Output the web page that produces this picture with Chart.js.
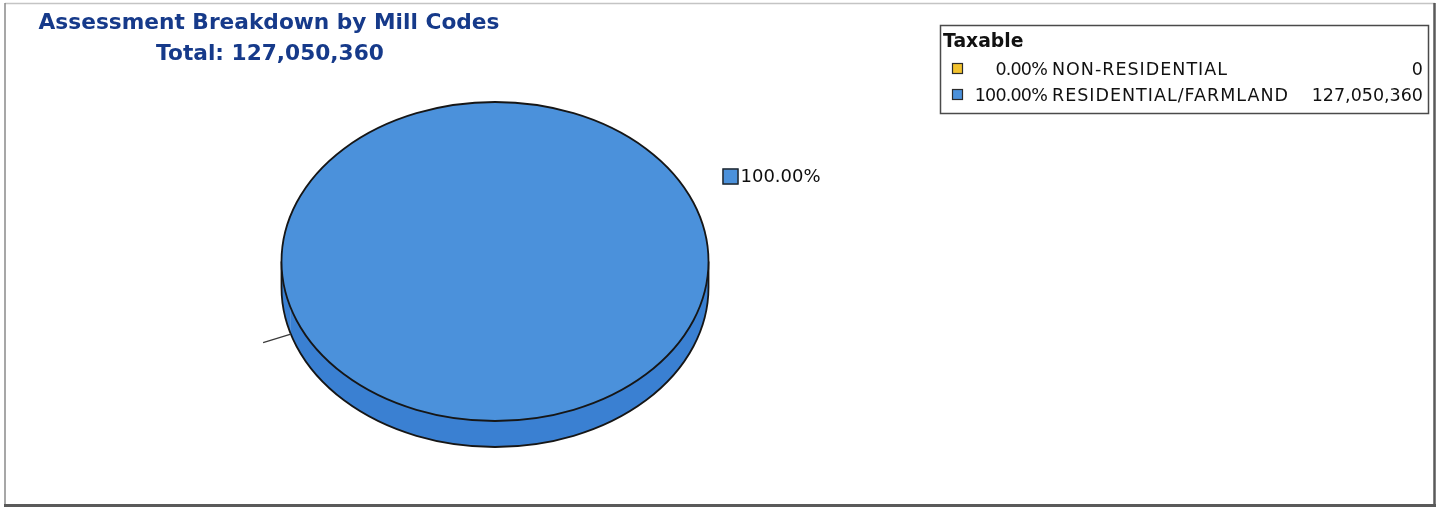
<!DOCTYPE html>
<html>
<head>
<meta charset="utf-8">
<script src="https://cdn.jsdelivr.net/npm/chart.js@4.4.1/dist/chart.umd.min.js"></script>
<style>
  html, body { margin: 0; padding: 0; background: #ffffff; }
  canvas { display: block; }
</style>
</head>
<body>
<canvas id="chart" width="1441" height="508"></canvas>
<script>
// ---- data ----
const chartTitle = 'Assessment Breakdown by Mill Codes';
const legendTitle = 'Taxable';
const categories = ['NON-RESIDENTIAL', 'RESIDENTIAL/FARMLAND'];
const assessedValues = [0, 127050360];
const sliceColors = ['#f2c22e', '#4b91db'];
const wallColors = ['#d6a618', '#3a80d2'];

const total = assessedValues.reduce((a, b) => a + b, 0);
const fmtNum = v => v.toLocaleString('en-US');
const fmtPct = v => (total ? v / total * 100 : 0).toFixed(2) + '%';

const TILT = 0.747;      // vertical squash of the pie disc
const DEPTH = 26;        // thickness of the disc wall
const OUTLINE = '#161616';

function discGeometry(meta) {
  const a = meta.data[0];
  return { cx: a.x, cy: a.y, r: a.outerRadius, ry: a.outerRadius * TILT };
}

function setSpacing(ctx, px) {
  if ('letterSpacing' in ctx) ctx.letterSpacing = px + 'px';
}

// 3D disc: wall under the slices, squashed top face, outlines, leader lines, labels
const pie3d = {
  id: 'pie3d',
  beforeDraw(chart) {
    const ctx = chart.ctx;
    ctx.save();
    ctx.fillStyle = '#ffffff';
    ctx.fillRect(0, 0, chart.width, chart.height);
    // outer frame
    ctx.lineWidth = 1.5;
    ctx.strokeStyle = '#c4c4c4';
    ctx.beginPath(); ctx.moveTo(5, 3.5); ctx.lineTo(1435, 3.5); ctx.stroke();
    ctx.strokeStyle = '#8a8a8a';
    ctx.beginPath(); ctx.moveTo(5, 3); ctx.lineTo(5, 505); ctx.stroke();
    ctx.lineWidth = 2.5;
    ctx.strokeStyle = '#5a5a5a';
    ctx.beginPath(); ctx.moveTo(1434.5, 3); ctx.lineTo(1434.5, 505); ctx.stroke();
    ctx.lineWidth = 3;
    ctx.beginPath(); ctx.moveTo(4, 505.5); ctx.lineTo(1436, 505.5); ctx.stroke();
    ctx.restore();
  },
  beforeDatasetDraw(chart, args) {
    const ctx = chart.ctx;
    const meta = args.meta;
    const { cx, cy, r, ry } = discGeometry(meta);
    ctx.save();
    // wall: only the front half (angles 0..PI) is visible
    meta.data.forEach((arc, i) => {
      const s = arc.startAngle, e = arc.endAngle;
      if (e - s <= 0) return;
      for (let k = -1; k <= 2; k++) {
        const lo = Math.max(s, 2 * Math.PI * k);
        const hi = Math.min(e, 2 * Math.PI * k + Math.PI);
        if (hi <= lo) continue;
        ctx.beginPath();
        ctx.ellipse(cx, cy, r, ry, 0, lo, hi);
        ctx.ellipse(cx, cy + DEPTH, r, ry, 0, hi, lo, true);
        ctx.closePath();
        ctx.fillStyle = wallColors[i];
        ctx.fill();
      }
    });
    ctx.lineWidth = 1.8;
    ctx.strokeStyle = OUTLINE;
    ctx.beginPath();
    ctx.moveTo(cx + r, cy);
    ctx.ellipse(cx, cy + DEPTH, r, ry, 0, 0, Math.PI);
    ctx.lineTo(cx - r, cy);
    ctx.stroke();
    ctx.restore();
    // squash the top face drawn by the controller
    ctx.save();
    ctx.translate(cx, cy);
    ctx.scale(1, TILT);
    ctx.translate(-cx, -cy);
  },
  afterDatasetDraw(chart, args) {
    const ctx = chart.ctx;
    ctx.restore();
    const meta = args.meta;
    const { cx, cy, r, ry } = discGeometry(meta);
    ctx.save();
    ctx.lineWidth = 1.8;
    ctx.strokeStyle = OUTLINE;
    meta.data.forEach((arc, i) => {
      const span = arc.endAngle - arc.startAngle;
      if (span <= 0) return;
      ctx.beginPath();
      if (span >= 2 * Math.PI - 1e-6) {
        ctx.ellipse(cx, cy, r, ry, 0, 0, 2 * Math.PI);
      } else {
        ctx.moveTo(cx, cy);
        ctx.ellipse(cx, cy, r, ry, 0, arc.startAngle, arc.endAngle);
        ctx.closePath();
      }
      ctx.stroke();
    });
    // leader lines for empty slices, from the lower rim outward
    ctx.lineWidth = 1.2;
    ctx.strokeStyle = '#3a3a3a';
    meta.data.forEach((arc, i) => {
      if (assessedValues[i] !== 0) return;
      const a = arc.startAngle;
      const px = cx + r * Math.cos(a);
      const py = cy + DEPTH + ry * Math.sin(a);
      ctx.beginPath();
      ctx.moveTo(px, py);
      ctx.lineTo(px + 29 * Math.cos(a), py + 29 * Math.sin(a));
      ctx.stroke();
    });
    // value label for the non-empty slice
    meta.data.forEach((arc, i) => {
      if (assessedValues[i] === 0) return;
      const bx = cx + r + 14;
      const by = cy - 85;
      ctx.fillStyle = sliceColors[i];
      ctx.fillRect(bx, by - 8, 16, 16);
      ctx.lineWidth = 1.4;
      ctx.strokeStyle = '#222222';
      ctx.strokeRect(bx + 0.5, by - 7.5, 15, 15);
      ctx.fillStyle = '#0d0d0d';
      ctx.font = '18px "DejaVu Sans"';
      ctx.textBaseline = 'middle';
      ctx.textAlign = 'left';
      ctx.fillText(fmtPct(assessedValues[i]), bx + 18, by + 1);
    });
    ctx.restore();
  },
  afterDraw(chart) {
    const ctx = chart.ctx;
    ctx.save();
    // title
    ctx.fillStyle = '#163a8a';
    ctx.font = 'bold 21.7px "DejaVu Sans"';
    ctx.textAlign = 'center';
    ctx.textBaseline = 'alphabetic';
    ctx.fillText(chartTitle, 269, 29);
    ctx.fillText('Total: ' + fmtNum(total), 270, 60);

    // legend box
    ctx.lineWidth = 1.5;
    ctx.strokeStyle = '#4a4a4a';
    ctx.strokeRect(940.5, 25.5, 488, 88);
    ctx.fillStyle = '#111111';
    ctx.textAlign = 'left';
    ctx.font = 'bold 18.8px "DejaVu Sans"';
    ctx.fillText(legendTitle, 943, 47);
    ctx.font = '17.5px "DejaVu Sans"';
    categories.forEach((name, i) => {
      const y = 75 + i * 26;
      ctx.fillStyle = sliceColors[i];
      ctx.fillRect(952, y - 12, 11, 11);
      ctx.lineWidth = 1.2;
      ctx.strokeStyle = '#2a2a2a';
      ctx.strokeRect(952.5, y - 11.5, 10, 10);
      ctx.fillStyle = '#111111';
      ctx.textAlign = 'right';
      setSpacing(ctx, -0.8);
      ctx.fillText(fmtPct(assessedValues[i]), 1047, y);
      ctx.textAlign = 'left';
      setSpacing(ctx, 1);
      ctx.fillText(name, 1052, y);
      setSpacing(ctx, 0);
      ctx.textAlign = 'right';
      ctx.fillText(fmtNum(assessedValues[i]), 1423, y);
    });
    ctx.restore();
  }
};

new Chart(document.getElementById('chart'), {
  type: 'pie',
  data: {
    labels: categories,
    datasets: [{
      data: assessedValues,
      backgroundColor: sliceColors,
      borderWidth: 0,
      radius: 213.5,
      clip: false
    }]
  },
  options: {
    responsive: false,
    animation: false,
    devicePixelRatio: 1,
    rotation: 253,
    layout: { padding: { left: 281.5, right: 732.5, top: 47.5, bottom: 32.5 } },
    plugins: {
      legend: { display: false },
      title: { display: false },
      tooltip: { enabled: false }
    },
    events: []
  },
  plugins: [pie3d]
});
</script>
</body>
</html>
